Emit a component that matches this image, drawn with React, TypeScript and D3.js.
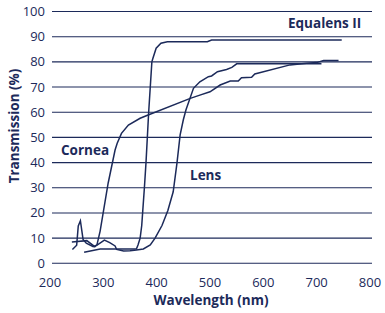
import * as d3 from "d3";

// wavelength (nm) / transmission (%) pairs
const corneaWl = [241, 269, 284, 288, 294, 309, 322, 326, 334, 347, 369, 384, 463, 481, 500, 519, 538, 553, 559, 578, 584, 650, 681, 700, 713, 741];
const corneaT = [8.5, 9, 6.6, 7.3, 12.8, 31.8, 45, 47.7, 51.6, 54.9, 57.6, 58.9, 65.5, 66.8, 68.1, 70.8, 72.4, 72.4, 73.7, 73.9, 75.2, 78.8, 79.4, 79.7, 80.5, 80.5];

const lensWl = [242, 250, 253, 257, 262, 268, 281, 289, 302, 312, 322, 325, 338, 350, 362, 375, 388, 397, 410, 421, 431, 438, 444, 450, 455, 469, 481, 497, 503, 514, 531, 541, 550, 709];
const lensT = [5.5, 7.2, 14.8, 16.9, 9.5, 8, 6.6, 7.3, 9.2, 8.2, 6.9, 5.5, 4.9, 5, 5.3, 5.7, 7.3, 10, 15, 21, 28.4, 39.7, 51, 57, 61, 69.5, 72.1, 74.1, 74.4, 76.1, 77, 77.8, 79.2, 79.2];

const equalensWl = [264, 294, 362, 365, 369, 372, 374, 377, 380, 385, 391, 393, 399, 408, 420, 495, 503, 747];
const equalensT = [4.4, 5.7, 5.7, 7.3, 10, 15, 21, 30, 40, 60, 80, 81.4, 85.4, 87.4, 88, 88, 88.7, 88.7];

const xTicks = [200, 300, 400, 500, 600, 700, 800];
const yTicks = [0, 10, 20, 30, 40, 50, 60, 70, 80, 90, 100];

const navy = "#1c2a5a";
const font = "'Open Sans', Lato, sans-serif";

const App = () => {
    const x = d3.scaleLinear().domain([200, 800]).range([50, 370]);
    const y = d3.scaleLinear().domain([0, 100]).range([263.3, 11.5]);

    const line = d3
        .line<[number, number]>()
        .x((d) => x(d[0]))
        .y((d) => y(d[1]));

    const series = [
        corneaWl.map((w, i) => [w, corneaT[i]] as [number, number]),
        lensWl.map((w, i) => [w, lensT[i]] as [number, number]),
        equalensWl.map((w, i) => [w, equalensT[i]] as [number, number]),
    ];

    return (
        <svg
            width={385}
            height={313}
            style={{ position: "absolute", left: 0, top: 0, background: "#fff" }}
            fontFamily={font}
        >
            {yTicks.map((t) => (
                <g key={t}>
                    <line x1={52} x2={372} y1={y(t)} y2={y(t)} stroke={navy} strokeWidth={1.1} />
                    <text
                        x={45}
                        y={y(t)}
                        dy="0.35em"
                        textAnchor="end"
                        fontSize={13}
                        fill={navy}
                    >
                        {t}
                    </text>
                </g>
            ))}
            {xTicks.map((t) => (
                <text key={t} x={x(t)} y={286.5} textAnchor="middle" fontSize={13} fill={navy}>
                    {t}
                </text>
            ))}
            {series.map((s, i) => (
                <path key={i} d={line(s) ?? ""} fill="none" stroke={navy} strokeWidth={1.5} />
            ))}
            <text x={288} y={28} fontSize={13.5} fontWeight="bold" fill={navy}>
                Equalens II
            </text>
            <text x={61} y={155} fontSize={13.5} fontWeight="bold" fill={navy}>
                Cornea
            </text>
            <text x={190} y={180} fontSize={13.5} fontWeight="bold" fill={navy}>
                Lens
            </text>
            <text x={211} y={305} textAnchor="middle" fontSize={13.5} fontWeight="bold" fill={navy}>
                Wavelength (nm)
            </text>
            <text
                transform="translate(18.5,126) rotate(-90)"
                textAnchor="middle"
                fontSize={13.5}
                fontWeight="bold"
                fill={navy}
            >
                Transmission (%)
            </text>
        </svg>
    );
};

export default App;
